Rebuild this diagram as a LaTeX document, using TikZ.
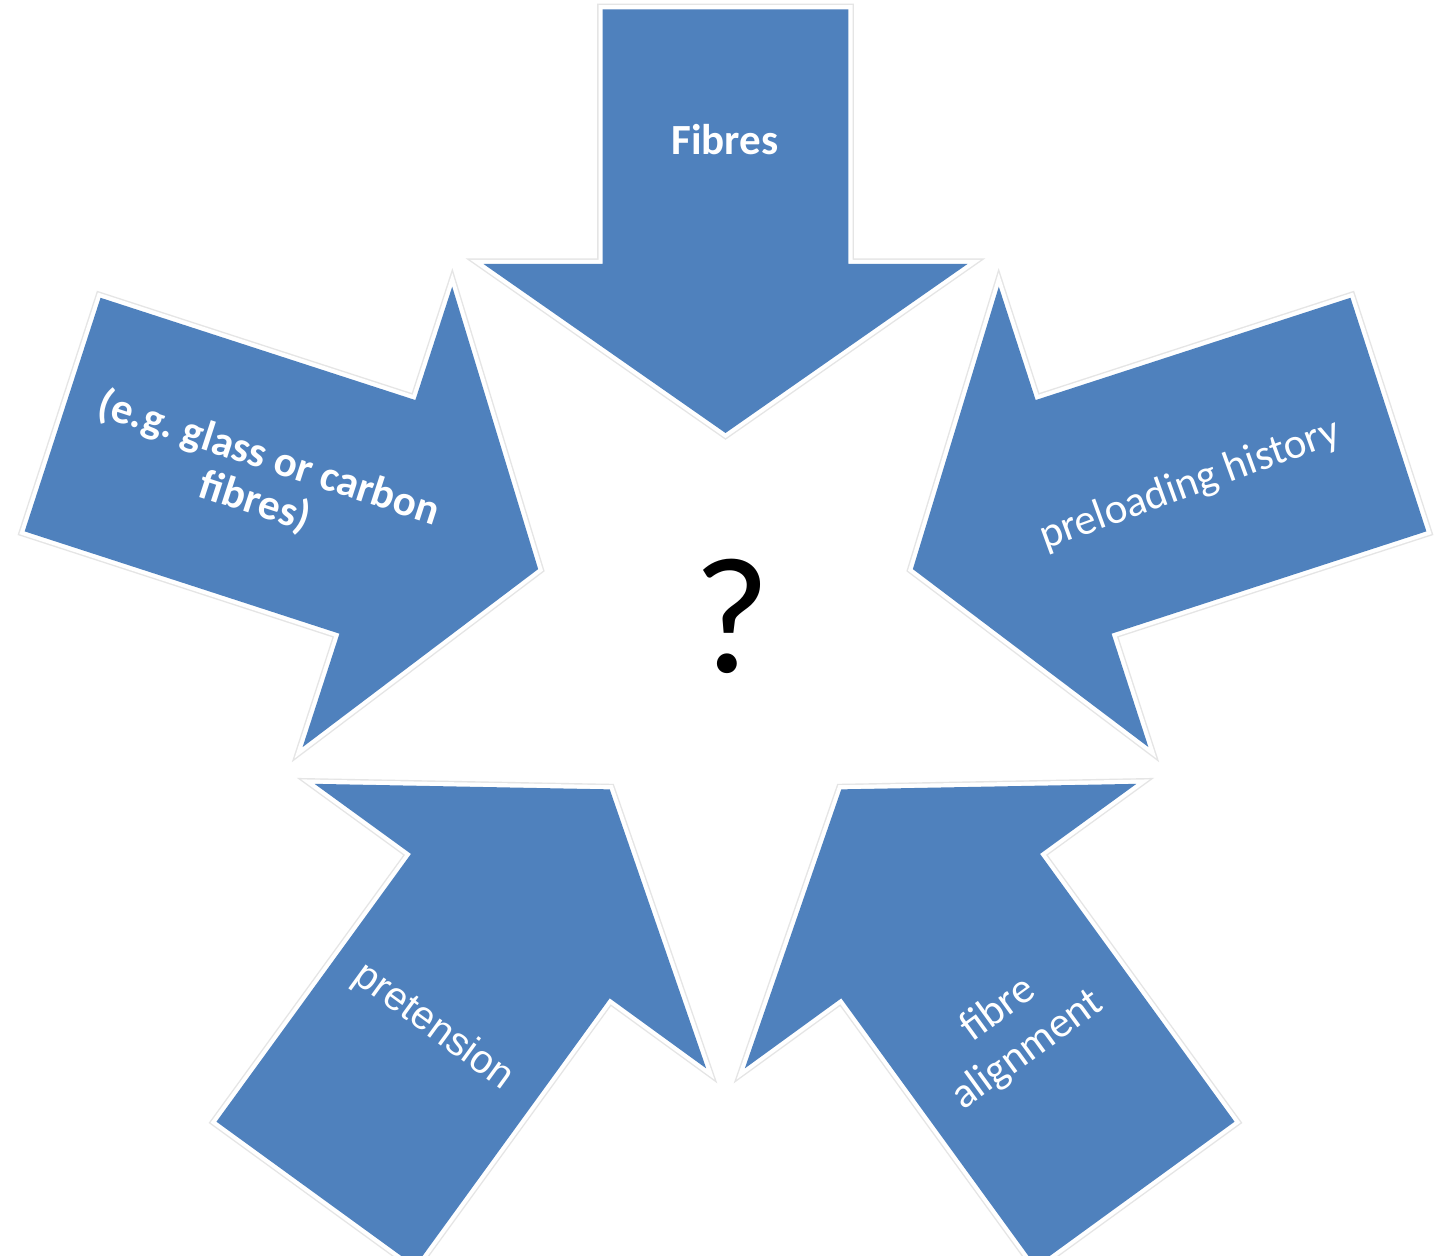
\documentclass[tikz,border=0pt]{standalone}
\usepackage{fontspec}
\newfontfamily\calib{Carlito}
\newfontfamily\arialf{Liberation Sans}
\definecolor{arrowblue}{HTML}{4F81BD}
\tikzset{
  arrowbody/.style={fill=arrowblue,
    preaction={draw=black!10, line width=5.6pt, line join=miter},
    preaction={draw=white, line width=4.2pt, line join=miter}},
  lbl/.style={text=white, inner sep=0pt, align=center},
}
% #1 rotation, #2 distance of the shaft end from the centre
\newcommand\fivearrow[2]{%
  \path[arrowbody, shift={(725.5,626)}, rotate=#1]
    (-122.8,#2) -- (122.8,#2) -- (122.8,366) -- (242,366) -- (0,197)
    -- (-242,366) -- (-122.8,366) -- cycle;}
\frenchspacing
\begin{document}
\begin{tikzpicture}[x=0.5pt,y=0.5pt]
\useasboundingbox (0,0) rectangle (1444,1256);
\clip (0,0) rectangle (1444,1256);
\fill[white] (0,0) rectangle (1444,1256);

\fivearrow{0}{620.7}
\fivearrow{72}{697}
\fivearrow{144}{697}
\fivearrow{216}{697}
\fivearrow{288}{697}

\node[lbl, font=\calib\bfseries\fontsize{21.5}{25}\selectfont] (fibresTxt) at (725,1116) {Fibres};
\node[lbl, rotate=-18, font=\calib\bfseries\fontsize{21.5}{23}\selectfont] (egTxt) at (262,776) {(e.g.\ glass or carbon\\fibres)};
\node[lbl, rotate=20, font=\calib\fontsize{21.5}{25}\selectfont] (preTxt) at (1190,771) {preloading history};
\node[lbl, rotate=-36, font=\arialf\fontsize{20}{23}\selectfont] (pretTxt) at (433,229) {pretension};
\node[lbl, rotate=36, font=\calib\fontsize{21.5}{25}\selectfont] (alignTxt) at (1013,226) {fibre\\alignment};
\node[inner sep=0pt, font=\calib\fontsize{83}{90}\selectfont] (qTxt) at (731.7,639.3) {?};
\end{tikzpicture}
\end{document}
